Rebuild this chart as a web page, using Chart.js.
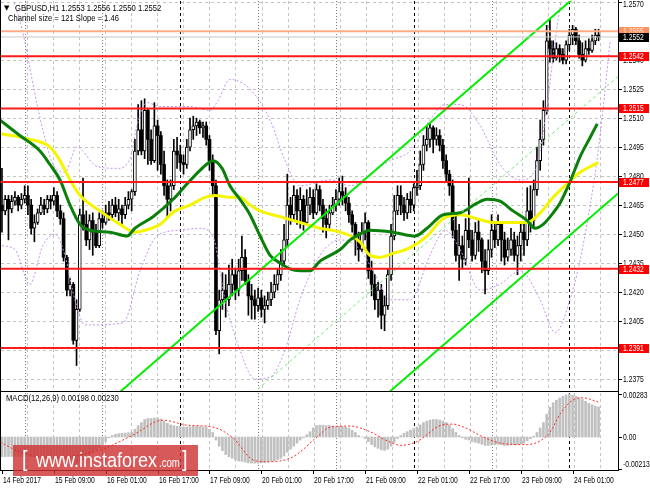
<!DOCTYPE html>
<html><head><meta charset="utf-8">
<script src="https://cdn.jsdelivr.net/npm/chart.js@4.4.1/dist/chart.umd.min.js"></script>
<style>
html,body{margin:0;padding:0;background:#fff;}
#wrap{position:relative;width:650px;height:488px;overflow:hidden;background:#fff;}
#main{position:absolute;left:0;top:0;width:650px;height:392px;}
#macd{position:absolute;left:0;top:391px;width:650px;height:97px;}
#wm{position:absolute;left:13px;top:445px;width:185px;height:31px;background:rgba(205,48,48,0.80);color:#fff;font-family:"Liberation Sans",Arial,sans-serif;}
#wm span{position:absolute;line-height:1;transform-origin:0 0;transform:scaleX(0.9);white-space:nowrap;}
#wm .b{font-size:22px;top:3px;}
#wm .w{font-size:20px;top:5px;}
#wm .c{font-size:12px;top:12px;transform:scaleX(0.8);}
</style></head><body>
<div id="wrap">
<canvas id="main" width="650" height="392"></canvas>
<canvas id="macd" width="650" height="97"></canvas>
<div id="wm"><span class="b" style="left:9px">[</span><span class="w" style="left:23px">www.instaforex</span><span class="c" style="left:146px">.com</span><span class="b" style="left:169px">]</span></div>
</div>
<script>
// ---------------- DATA ----------------
const symbolName = 'GBPUSD,H1';
const firstOpen = 1.2465;
const closes = [
1.2462,1.2468,1.2463,1.2467,1.2469,1.2465,1.2468,1.2470,1.2465,1.2453,
1.2456,1.2461,1.2465,1.2463,1.2468,1.2467,1.2470,1.2462,1.2458,1.2438,
1.2421,1.2424,1.2395,1.2411,1.2460,1.2455,1.2447,1.2457,1.2451,1.2444,
1.2458,1.2456,1.2461,1.2460,1.2465,1.2461,1.2463,1.2460,1.2465,1.2468,
1.2472,1.2493,1.2504,1.2493,1.2514,1.2499,1.2488,1.2506,1.2501,1.2486,
1.2475,1.2468,1.2475,1.2493,1.2491,1.2487,1.2486,1.2495,1.2504,1.2506,
1.2508,1.2505,1.2506,1.2499,1.2488,1.2475,1.2400,1.2416,1.2421,1.2416,
1.2424,1.2429,1.2421,1.2431,1.2438,1.2426,1.2418,1.2416,1.2413,1.2417,
1.2411,1.2413,1.2416,1.2420,1.2424,1.2429,1.2436,1.2447,1.2465,1.2460,
1.2470,1.2462,1.2468,1.2456,1.2465,1.2469,1.2461,1.2473,1.2465,1.2458,
1.2455,1.2461,1.2465,1.2468,1.2472,1.2470,1.2466,1.2460,1.2455,1.2447,
1.2442,1.2451,1.2456,1.2431,1.2424,1.2416,1.2421,1.2408,1.2413,1.2429,
1.2449,1.2462,1.2470,1.2465,1.2461,1.2468,1.2465,1.2474,1.2475,1.2486,
1.2496,1.2499,1.2505,1.2499,1.2501,1.2496,1.2488,1.2481,1.2475,1.2452,
1.2439,1.2444,1.2437,1.2452,1.2447,1.2439,1.2451,1.2447,1.2436,1.2431,
1.2442,1.2452,1.2447,1.2455,1.2447,1.2438,1.2442,1.2447,1.2439,1.2444,
1.2451,1.2447,1.2462,1.2457,1.2473,1.2488,1.2499,1.2514,1.2550,1.2546,
1.2541,1.2546,1.2543,1.2540,1.2548,1.2553,1.2556,1.2550,1.2543,1.2540,
1.2546,1.2545,1.2550,1.2553,1.2552];
const highs = [
1.2484,1.2470,1.2470,1.2470,1.2472,1.2470,1.2471,1.2475,1.2475,1.2468,
1.2460,1.2463,1.2469,1.2468,1.2470,1.2470,1.2474,1.2472,1.2465,1.2461,
1.2439,1.2427,1.2425,1.2416,1.2463,1.2479,1.2462,1.2460,1.2461,1.2455,
1.2461,1.2462,1.2465,1.2467,1.2468,1.2469,1.2468,1.2465,1.2469,1.2472,
1.2473,1.2499,1.2517,1.2519,1.2520,1.2515,1.2504,1.2518,1.2509,1.2503,
1.2493,1.2478,1.2478,1.2499,1.2500,1.2496,1.2491,1.2499,1.2510,1.2511,
1.2510,1.2509,1.2508,1.2508,1.2501,1.2491,1.2478,1.2421,1.2430,1.2429,
1.2434,1.2437,1.2432,1.2437,1.2449,1.2442,1.2429,1.2424,1.2421,1.2422,
1.2421,1.2418,1.2420,1.2425,1.2429,1.2432,1.2442,1.2455,1.2481,1.2469,
1.2475,1.2473,1.2474,1.2470,1.2473,1.2474,1.2473,1.2476,1.2475,1.2468,
1.2463,1.2465,1.2469,1.2473,1.2479,1.2480,1.2474,1.2469,1.2462,1.2456,
1.2451,1.2456,1.2461,1.2457,1.2436,1.2429,1.2425,1.2424,1.2418,1.2432,
1.2455,1.2470,1.2475,1.2475,1.2469,1.2471,1.2472,1.2476,1.2483,1.2493,
1.2501,1.2506,1.2507,1.2506,1.2505,1.2504,1.2499,1.2491,1.2483,1.2478,
1.2460,1.2455,1.2449,1.2458,1.2479,1.2452,1.2456,1.2457,1.2448,1.2442,
1.2447,1.2460,1.2455,1.2460,1.2456,1.2451,1.2448,1.2453,1.2451,1.2449,
1.2456,1.2455,1.2474,1.2475,1.2478,1.2495,1.2509,1.2519,1.2558,1.2561,
1.2550,1.2549,1.2548,1.2546,1.2550,1.2556,1.2558,1.2557,1.2553,1.2549,
1.2550,1.2551,1.2553,1.2556,1.2556];
const lows = [
1.2451,1.2460,1.2447,1.2461,1.2465,1.2462,1.2463,1.2466,1.2460,1.2450,
1.2446,1.2455,1.2460,1.2460,1.2461,1.2463,1.2465,1.2459,1.2455,1.2436,
1.2418,1.2418,1.2393,1.2382,1.2410,1.2452,1.2444,1.2442,1.2439,1.2443,
1.2443,1.2453,1.2455,1.2457,1.2458,1.2459,1.2457,1.2455,1.2458,1.2463,
1.2462,1.2470,1.2491,1.2491,1.2489,1.2486,1.2486,1.2487,1.2483,1.2481,
1.2470,1.2458,1.2462,1.2473,1.2484,1.2483,1.2481,1.2484,1.2493,1.2499,
1.2501,1.2502,1.2500,1.2496,1.2483,1.2470,1.2398,1.2388,1.2411,1.2407,
1.2413,1.2418,1.2416,1.2418,1.2426,1.2424,1.2408,1.2406,1.2406,1.2410,
1.2407,1.2404,1.2411,1.2413,1.2417,1.2421,1.2426,1.2434,1.2444,1.2455,
1.2457,1.2455,1.2453,1.2452,1.2455,1.2460,1.2458,1.2460,1.2462,1.2451,
1.2448,1.2453,1.2460,1.2462,1.2465,1.2465,1.2462,1.2456,1.2451,1.2439,
1.2436,1.2441,1.2447,1.2427,1.2418,1.2411,1.2407,1.2401,1.2400,1.2411,
1.2426,1.2447,1.2460,1.2460,1.2457,1.2458,1.2461,1.2462,1.2470,1.2473,
1.2483,1.2493,1.2495,1.2492,1.2496,1.2493,1.2484,1.2477,1.2470,1.2448,
1.2436,1.2426,1.2432,1.2434,1.2443,1.2436,1.2437,1.2441,1.2430,1.2419,
1.2429,1.2438,1.2443,1.2444,1.2436,1.2434,1.2436,1.2439,1.2436,1.2429,
1.2436,1.2439,1.2444,1.2451,1.2453,1.2470,1.2483,1.2496,1.2512,1.2539,
1.2539,1.2540,1.2539,1.2538,1.2538,1.2545,1.2548,1.2548,1.2541,1.2537,
1.2539,1.2543,1.2544,1.2548,1.2550];

// indicator lines: [bar index, value]
const maGreen = [[-0.6,1.2509],[5.5,1.2501],[11.7,1.2493],[14.8,1.2486],[17.9,1.2478],[21,1.2465],[24.1,1.2455],[27.1,1.2452],[33.3,1.2451],[38.6,1.2449],[41,1.2453],[46.6,1.2459],[52.8,1.2468],[57.1,1.2476],[61.1,1.2483],[65.1,1.2488],[67.9,1.2484],[70.3,1.2475],[73.4,1.2468],[76.5,1.2460],[79.6,1.2449],[82.7,1.2439],[85.8,1.2435],[88.8,1.2432],[91.9,1.2431],[95,1.2431],[98.1,1.2436],[101.2,1.2439],[104.3,1.2442],[107.4,1.2447],[110.4,1.2450],[113.5,1.2452],[120.6,1.2451],[127.4,1.2449],[131.1,1.2453],[136.1,1.2460],[141.3,1.2461],[146.5,1.2466],[149.6,1.2468],[153.6,1.2467],[157.6,1.2462],[162,1.2457],[164.4,1.2453],[166.9,1.2455],[170,1.2461],[172.1,1.2466],[175.2,1.2477],[178.3,1.2490],[181.4,1.2500],[183.6,1.2507]];
const maYellow = [[-0.6,1.2502],[8.6,1.2499],[14.8,1.2495],[17.9,1.2488],[21,1.2478],[24.1,1.2470],[30.2,1.2462],[36.4,1.2455],[41,1.2451],[44.1,1.2452],[48.7,1.2455],[53.4,1.2462],[58,1.2465],[62.6,1.2469],[65.7,1.2470],[70.3,1.2469],[73.4,1.2469],[76.5,1.2465],[79.6,1.2462],[85.8,1.2459],[91.9,1.2456],[98.1,1.2453],[104.3,1.2451],[110.4,1.2446],[113.5,1.2439],[116.6,1.2438],[120.6,1.2440],[125.9,1.2443],[131.1,1.2449],[136.1,1.2458],[141.3,1.2460],[146.5,1.2458],[151.5,1.2456],[156.7,1.2456],[162,1.2456],[166,1.2461],[170,1.2469],[174.3,1.2476],[178.3,1.2482],[183.9,1.2487]];
const bandUpper = [[0,1.2587],[6.2,1.2556],[9.3,1.2530],[12.6,1.2504],[16.4,1.2484],[19.4,1.2482],[23.1,1.2495],[29.3,1.2485],[35.5,1.2484],[39.5,1.2489],[41.6,1.2506],[44.7,1.2518],[48.7,1.2516],[58,1.2516],[64.2,1.2514],[66.6,1.2519],[70.3,1.2530],[76.5,1.2525],[82.7,1.2509],[87.3,1.2488],[91.9,1.2475],[101.2,1.2478],[107.4,1.2475],[113.5,1.2481],[119.7,1.2488],[125.9,1.2493],[132,1.2509],[136.7,1.2517],[141.3,1.2517],[147.5,1.2506],[153.6,1.2486],[159.8,1.2478],[164.4,1.2483],[167.5,1.2509],[170.6,1.2550],[173.5,1.2582]];
const bandLower = [[0,1.2444],[4,1.2442],[8.6,1.2424],[12.6,1.2444],[16.4,1.2450],[19.4,1.2439],[22.5,1.2416],[25.6,1.2403],[37.3,1.2404],[42.6,1.2431],[47.8,1.2449],[55,1.2452],[61,1.2453],[65,1.2449],[68.8,1.2416],[73.4,1.2390],[78,1.2375],[82.7,1.2376],[87.3,1.2390],[91.9,1.2416],[98.1,1.2439],[104.3,1.2447],[110.4,1.2442],[115.1,1.2429],[119.7,1.2416],[125.9,1.2416],[132,1.2439],[136.7,1.2452],[141.3,1.2442],[147.5,1.2421],[153.6,1.2424],[159.8,1.2431],[166,1.2416],[170.6,1.2399],[175.2,1.2416],[179.2,1.2444],[183.9,1.2493],[187.6,1.2550]];
const channelUpper = [[30,1.2359],[190,1.2592]];
const channelMiddle = [[30,1.22985],[190,1.25315]];
const channelLower = [[30,1.2238],[190,1.2471]];
const levels = [1.2542,1.2515,1.2477,1.2432,1.2391];
const askPrice = 1.2555, bidPrice = 1.2552;
const priceTicks = [1.2570,1.2555,1.2540,1.2525,1.2510,1.2495,1.2480,1.2465,1.2450,1.2435,1.2420,1.2405,1.2390,1.2375];
const channelText = 'Channel size = 121 Slope = 1.46';

const macdHist = [
-0.00130,-0.00129,-0.00128,-0.00128,-0.00127,-0.00127,-0.00126,-0.00126,-0.00125,-0.00128,
-0.00132,-0.00134,-0.00134,-0.00133,-0.00132,-0.00130,-0.00128,-0.00128,-0.00129,-0.00140,
-0.00150,-0.00160,-0.00180,-0.00185,-0.00165,-0.00150,-0.00135,-0.00118,-0.00100,-0.00085,
-0.00070,-0.00050,-0.00030,-0.00005,0.00010,0.00018,0.00022,0.00024,0.00026,0.00028,
0.00032,0.00050,0.00075,0.00095,0.00115,0.00122,0.00122,0.00125,0.00125,0.00118,
0.00105,0.00090,0.00080,0.00075,0.00070,0.00068,0.00066,0.00066,0.00068,0.00070,
0.00070,0.00068,0.00066,0.00062,0.00050,0.00030,-0.00020,-0.00060,-0.00090,-0.00115,
-0.00130,-0.00140,-0.00150,-0.00158,-0.00160,-0.00165,-0.00170,-0.00172,-0.00172,-0.00172,
-0.00170,-0.00168,-0.00165,-0.00160,-0.00155,-0.00148,-0.00140,-0.00125,-0.00100,-0.00080,
-0.00060,-0.00040,-0.00020,-0.00005,0.00015,0.00035,0.00060,0.00075,0.00078,0.00078,
0.00075,0.00075,0.00072,0.00070,0.00070,0.00070,0.00065,0.00058,0.00045,0.00030,
0.00010,0.00000,-0.00010,-0.00030,-0.00050,-0.00065,-0.00075,-0.00085,-0.00088,-0.00080,
-0.00060,-0.00035,-0.00010,0.00010,0.00025,0.00035,0.00045,0.00055,0.00065,0.00080,
0.00095,0.00105,0.00112,0.00115,0.00115,0.00112,0.00105,0.00095,0.00080,0.00055,
0.00030,0.00010,-0.00005,-0.00015,-0.00020,-0.00030,-0.00035,-0.00040,-0.00048,-0.00055,
-0.00055,-0.00052,-0.00050,-0.00048,-0.00050,-0.00055,-0.00055,-0.00052,-0.00052,-0.00050,
-0.00045,-0.00040,-0.00025,-0.00012,0.00005,0.00030,0.00060,0.00095,0.00150,0.00195,
0.00225,0.00242,0.00256,0.00268,0.00277,0.00283,0.00275,0.00268,0.00258,0.00247,
0.00235,0.00222,0.00212,0.00204,0.00198];
const macdSignal = [[-0.6,-0.00033],[5.5,-0.00098],[14.8,-0.00137],[30.2,-0.00085],[40.4,0.00013],[49.7,0.00111],[57.1,0.00078],[65.1,0.00065],[71.3,-0.00007],[77.4,-0.00150],[81.8,-0.00163],[89.8,-0.00130],[97.2,0.0],[101.2,0.00065],[107.4,0.00072],[113.5,0.00035],[118.8,-0.00025],[123,-0.00055],[128,-0.00030],[135.1,0.00075],[139,0.00085],[143,0.00060],[148.4,0.0],[155,-0.00045],[162,-0.00050],[166,-0.00025],[169,0.00030],[172.1,0.00150],[176.2,0.00245],[179.2,0.00258],[183.9,0.00230]];
const macdTicks = [0.00283, 0, -0.00213];
const macdTitle = 'MACD(12,26,9)';
const macdMainLast = 0.00198, macdSignalLast = 0.00230;

const timeTickIdx = [0,16,32,48,64,80,96,112,128,144,160,176];
const timeLabels = ['14 Feb 2017','15 Feb 09:00','16 Feb 01:00','16 Feb 17:00','17 Feb 09:00','20 Feb 01:00','20 Feb 17:00','21 Feb 09:00','22 Feb 01:00','22 Feb 17:00','23 Feb 09:00','24 Feb 01:00'];
const daySeparators = [7,31,79,103,151];
const darkSeparators = [55,127,175];

// ---------------- RENDER ----------------
const FONT = '"Liberation Sans", Arial, sans-serif';
const X_MIN = -0.3, X_MAX = 190;
const vGridStart = 7.7, vGridStep = 8.04;

function sText(ctx, s, x, y, size, sx, color, align) {
  ctx.save();
  ctx.font = size + 'px ' + FONT;
  ctx.fillStyle = color;
  ctx.textBaseline = 'middle';
  ctx.textAlign = align || 'left';
  ctx.translate(x, y);
  ctx.scale(sx, 1);
  ctx.fillText(s, 0, 0);
  ctx.restore();
}
function hline(ctx, x1, x2, y) { ctx.beginPath(); ctx.moveTo(x1, y); ctx.lineTo(x2, y); ctx.stroke(); }
function vline(ctx, x, y1, y2) { ctx.beginPath(); ctx.moveTo(x, y1); ctx.lineTo(x, y2); ctx.stroke(); }

function drawVGrid(chart) {
  const {ctx, chartArea: a, scales: {x}} = chart;
  ctx.save();
  ctx.beginPath(); ctx.rect(a.left, a.top, a.right - a.left, a.bottom - a.top); ctx.clip();
  ctx.lineWidth = 1;
  ctx.strokeStyle = '#c4c4c4'; ctx.setLineDash([3, 3]);
  for (let i = vGridStart; i <= X_MAX; i += vGridStep) {
    const px = Math.round(x.getPixelForValue(i)) + 0.5;
    vline(ctx, px, a.top, a.bottom);
  }
  ctx.strokeStyle = '#7a7a7a'; ctx.setLineDash([1, 2]);
  daySeparators.forEach(i => vline(ctx, Math.round(x.getPixelForValue(i)) + 0.5, a.top, a.bottom));
  ctx.strokeStyle = '#000'; ctx.setLineDash([3, 3]);
  darkSeparators.forEach(i => vline(ctx, Math.round(x.getPixelForValue(i)) + 0.5, a.top, a.bottom));
  ctx.restore();
}

const mainDecor = {
  id: 'mainDecor',
  beforeDatasetsDraw(chart) {
    const {ctx, chartArea: a, scales: {y}} = chart;
    ctx.save();
    ctx.lineWidth = 1; ctx.strokeStyle = '#c4c4c4'; ctx.setLineDash([3, 3]);
    priceTicks.forEach(p => hline(ctx, a.left, a.right, Math.round(y.getPixelForValue(p)) + 0.5));
    ctx.restore();
    drawVGrid(chart);
  },
  afterDatasetsDraw(chart) {
    const {ctx, chartArea: a, scales: {y}} = chart;
    const H = chart.height;
    ctx.save();
    ctx.strokeStyle = '#000'; ctx.lineWidth = 1; ctx.setLineDash([]);
    vline(ctx, a.right + 0.5, 0, H);
    vline(ctx, 0.5, 0, H);
    priceTicks.forEach(p => {
      const py = y.getPixelForValue(p);
      hline(ctx, a.right, a.right + 4, Math.round(py) + 0.5);
      sText(ctx, p.toFixed(4), a.right + 5, Math.max(py, a.top + 4), 9, 0.75, '#000');
    });
    const box = (p, bg, fg) => {
      const py = y.getPixelForValue(p);
      ctx.fillStyle = bg;
      ctx.fillRect(a.right + 1, Math.round(py) - 4, 30, 9);
      sText(ctx, p.toFixed(4), a.right + 5, Math.round(py) + 0.5, 9, 0.75, fg);
    };
    box(askPrice, '#ff9060', '#fff0e0');
    box(bidPrice, '#000000', '#ffffff');
    levels.forEach(l => box(l, '#ff0000', '#ffffff'));
    // header
    ctx.font = '7px "DejaVu Sans", sans-serif'; ctx.fillStyle = '#000'; ctx.textBaseline = 'middle';
    ctx.fillText('\u25BC', 4, 8);
    const n = closes.length - 1;
    const o = closes[n - 1];
    const head = symbolName + ' ' + [o, Math.max(highs[n], o, closes[n]), Math.min(lows[n], o, closes[n]), closes[n]].map(v => v.toFixed(4)).join(' ');
    sText(ctx, head, 15, 8.5, 9, 0.85, '#000');
    sText(ctx, channelText, 8, 18.5, 9, 0.85, '#000');
    ctx.restore();
  }
};

const macdDecor = {
  id: 'macdDecor',
  beforeDatasetsDraw(chart) { drawVGrid(chart); },
  afterDatasetsDraw(chart) {
    const {ctx, chartArea: a, scales: {x, y}} = chart;
    ctx.save();
    ctx.strokeStyle = '#000'; ctx.lineWidth = 1; ctx.setLineDash([]);
    hline(ctx, 0, a.right, 0.5);
    hline(ctx, 0, a.right + 1, a.bottom + 0.5);
    vline(ctx, a.right + 0.5, 0, a.bottom + 1);
    vline(ctx, 0.5, 0, a.bottom + 1);
    macdTicks.forEach(v => {
      const py = y.getPixelForValue(v);
      hline(ctx, a.right, a.right + 4, Math.round(py) + 0.5);
      const ly = Math.min(Math.max(py, a.top + 3), a.bottom - 5);
      sText(ctx, v === 0 ? '0.00' : v.toFixed(5), a.right + 5, ly, 9, 0.75, '#000');
    });
    timeTickIdx.forEach((i, k) => {
      const px = Math.round(x.getPixelForValue(i)) + 0.5;
      vline(ctx, px, a.bottom, a.bottom + 4);
      sText(ctx, timeLabels[k], px + 0.5, a.bottom + 11, 9, 0.75, '#000');
    });
    sText(ctx, macdTitle + ' ' + macdMainLast.toFixed(5) + ' ' + macdSignalLast.toFixed(5), 6, 7.5, 9, 0.85, '#000');
    ctx.restore();
  }
};

const pts = arr => arr.map(([px, py]) => ({x: px, y: py}));
function lineDS(data, color, width, dash, order, smooth) {
  return {type: 'line', data: pts(data), borderColor: color, borderWidth: width, borderDash: dash || [],
    pointRadius: 0, fill: false, tension: smooth ? 0.4 : 0, cubicInterpolationMode: smooth ? 'monotone' : 'default',
    order: order, clip: 0, borderCapStyle: 'butt'};
}

const opens = closes.map((c, i) => i === 0 ? firstOpen : closes[i - 1]);
const hiF = highs.map((h, i) => Math.max(h, opens[i], closes[i]));
const loF = lows.map((l, i) => Math.min(l, opens[i], closes[i]));
const bull = closes.map((c, i) => c >= opens[i]);

const xScale = {type: 'linear', min: X_MIN, max: X_MAX, display: false, offset: false};

const mainDatasets = [
  {type: 'bar', data: closes.map((c, i) => ({x: i, y: [loF[i], hiF[i]]})), backgroundColor: '#000', barThickness: 1, grouped: false, order: 20},
  {type: 'bar', data: closes.map((c, i) => ({x: i, y: [opens[i], c]})), backgroundColor: bull.map(b => b ? '#ffffff' : '#000000'),
   borderColor: '#000', borderWidth: bull.map(b => b ? 1 : 0), borderSkipped: false, barThickness: 3, minBarLength: 1, grouped: false, order: 19},
  lineDS(bandUpper, '#c890f0', 1, [2, 2], 12, true),
  lineDS(bandLower, '#c890f0', 1, [2, 2], 12, true),
  lineDS(maYellow, '#f5f500', 3, [], 8, true),
  lineDS(maGreen, '#0a800a', 3, [], 7, true),
  lineDS(channelMiddle, '#66ee66', 1, [3, 3], 6, false),
  lineDS(channelUpper, '#00ee00', 2, [], 5, false),
  lineDS(channelLower, '#00ee00', 2, [], 5, false),
  lineDS([[X_MIN, askPrice], [X_MAX, askPrice]], '#ffab85', 2, [], 4, false),
  lineDS([[X_MIN, bidPrice], [X_MAX, bidPrice]], '#c8c8c8', 1, [], 4, false)
];
levels.forEach(l => mainDatasets.push(lineDS([[X_MIN, l], [X_MAX, l]], '#ff1a1a', 2, [], 2, false)));

new Chart(document.getElementById('main'), {
  type: 'bar',
  data: {datasets: mainDatasets},
  options: {
    responsive: false, animation: false, devicePixelRatio: 1, events: [],
    layout: {padding: {left: 1, right: 32, top: 1, bottom: 1}},
    plugins: {legend: {display: false}, tooltip: {enabled: false}},
    scales: {x: xScale, y: {type: 'linear', min: 1.23688, max: 1.25706, display: false}}
  },
  plugins: [mainDecor]
});

new Chart(document.getElementById('macd'), {
  type: 'bar',
  data: {datasets: [
    {type: 'bar', data: macdHist.map((v, i) => ({x: i, y: v})), backgroundColor: '#c0c0c0', barThickness: 2, grouped: false, order: 10},
    lineDS(macdSignal, '#ff2a2a', 1, [2, 2], 1, true)
  ]},
  options: {
    responsive: false, animation: false, devicePixelRatio: 1, events: [],
    layout: {padding: {left: 1, right: 32, top: 2, bottom: 18}},
    plugins: {legend: {display: false}, tooltip: {enabled: false}},
    scales: {x: xScale, y: {type: 'linear', min: -0.00217, max: 0.002896, display: false}}
  },
  plugins: [macdDecor]
});
</script>
</body></html>
